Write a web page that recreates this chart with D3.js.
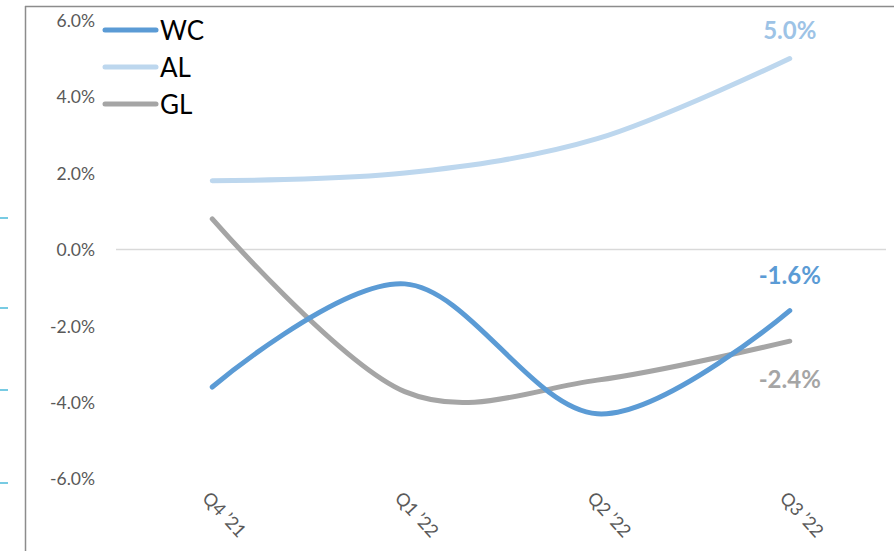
<!DOCTYPE html>
<html>
<head>
<meta charset="utf-8">
<script src="https://cdn.jsdelivr.net/npm/d3@7"></script>
<style>
  html, body { margin: 0; padding: 0; background: #ffffff; }
  svg { display: block; }
  text { font-family: Lato, "Open Sans", "Noto Sans", sans-serif; }
</style>
</head>
<body>
<svg id="chart" width="894" height="551"></svg>
<script>
// Quarterly change by segment
const categories = ["Q4 \u201921", "Q1 \u201922", "Q2 \u201922", "Q3 \u201922"];
const wcValues = [-3.6, -0.9, -4.3, -1.6];
const alValues = [1.8, 2.0, 2.9, 5.0];
const glValues = [0.8, -3.72, -3.42, -2.4];
const yTicks = [6, 4, 2, 0, -2, -4, -6];
const seriesNames = ["WC", "AL", "GL"];
const seriesColors = ["#5b9bd5", "#bdd7ee", "#a5a5a5"];
const labelColors = ["#5b9bd5", "#9dc3e6", "#a5a5a5"];

const svg = d3.select("#chart");
const W = 894, H = 551;
const plot = { left: 116, right: 886 };

// percent with a plain hyphen for negatives
const pct = v => d3.format(".1f")(v).replace("\u2212", "-") + "%";

const x = d3.scaleBand().domain(categories).range([plot.left, plot.right]);
const cx = c => x(c) + x.bandwidth() / 2;
const y = d3.scaleLinear().domain([-6, 6]).range([478.7, 20.3]);

// outer frame (top and left edges)
svg.append("line").attr("x1", 25).attr("x2", W).attr("y1", 6.5).attr("y2", 6.5)
  .attr("stroke", "#8c8c8c").attr("stroke-width", 1.5);
svg.append("line").attr("x1", 25.5).attr("x2", 25.5).attr("y1", 6).attr("y2", H)
  .attr("stroke", "#8c8c8c").attr("stroke-width", 1.5);

// small cyan marks at the left edge
[218, 308, 390, 483].forEach(v => {
  svg.append("line").attr("x1", 0).attr("x2", 8).attr("y1", v).attr("y2", v)
    .attr("stroke", "#1fa8d0").attr("stroke-width", 1.2);
});

// zero line
svg.append("line").attr("x1", plot.left).attr("x2", plot.right)
  .attr("y1", y(0)).attr("y2", y(0))
  .attr("stroke", "#d9d9d9").attr("stroke-width", 1.5);

// y axis labels
const yAxis = d3.axisLeft(y).tickValues(yTicks).tickSize(0).tickPadding(0)
  .tickFormat(pct);
const gy = svg.append("g").attr("transform", "translate(95,0)").call(yAxis);
gy.select(".domain").remove();
gy.selectAll("text").attr("font-size", "17.5px").attr("fill", "#595959")
  .attr("font-family", "Lato, 'Open Sans', sans-serif").attr("dy", "0.35em");

// x axis labels, rotated
const gx = svg.append("g");
gx.selectAll("text").data(categories).enter().append("text")
  .attr("transform", d => `translate(${cx(d) - 11},${499}) rotate(47)`)
  .attr("font-size", "18px").attr("fill", "#595959")
  .attr("text-anchor", "start")
  .text(d => d);

// series lines
const line = d3.line()
  .x((d, i) => cx(categories[i]))
  .y(d => y(d))
  .curve(d3.curveCardinal.tension(0));

const allSeries = [wcValues, alValues, glValues];
// draw GL, AL, then WC on top
[2, 1, 0].forEach(k => {
  svg.append("path").datum(allSeries[k])
    .attr("d", line)
    .attr("fill", "none")
    .attr("stroke", seriesColors[k])
    .attr("stroke-width", 5)
    .attr("stroke-linecap", "round");
});

// end value labels
const lastCat = categories[categories.length - 1];
const endLabelY = [y(wcValues[3]) - 35, y(alValues[3]) - 28, y(glValues[3]) + 38];
[0, 1, 2].forEach(k => {
  svg.append("text")
    .attr("x", cx(lastCat))
    .attr("y", endLabelY[k])
    .attr("text-anchor", "middle")
    .attr("dy", "0.35em")
    .attr("font-size", "24px")
    .attr("font-weight", "bold")
    .attr("fill", labelColors[k])
    .text(pct(allSeries[k][3]));
});

// legend
const legend = svg.append("g");
seriesNames.forEach((name, k) => {
  const ly = 30 + k * 37;
  legend.append("line").attr("x1", 105).attr("x2", 156).attr("y1", ly).attr("y2", ly)
    .attr("stroke", seriesColors[k]).attr("stroke-width", 5).attr("stroke-linecap", "round");
  legend.append("text").attr("x", 160).attr("y", ly + 10)
    .attr("font-size", "26px").attr("fill", "#000000").text(name);
});
</script>
</body>
</html>
